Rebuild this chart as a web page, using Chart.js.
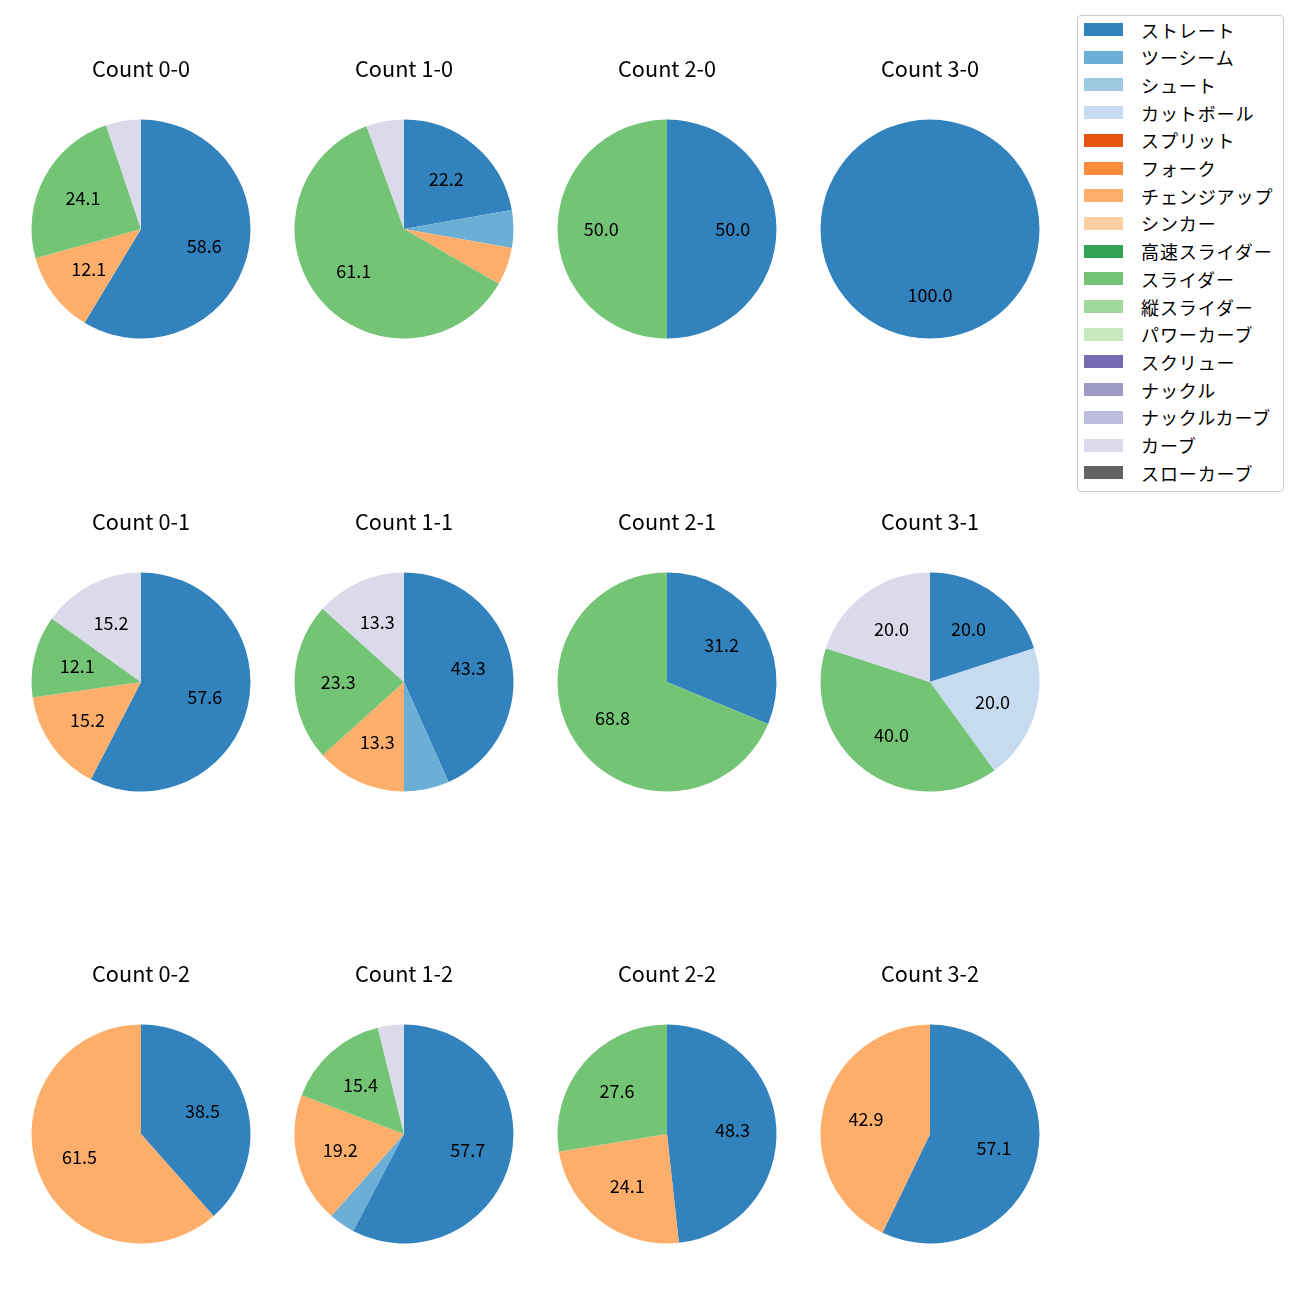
<!DOCTYPE html>
<html>
<head>
<meta charset="utf-8">
<script src="https://cdn.jsdelivr.net/npm/chart.js@4.4.1/dist/chart.umd.min.js"></script>
<style>
  body { margin: 0; background: #fff; width: 1300px; height: 1300px; position: relative; overflow: hidden; }
  canvas.pie { position: absolute; }
  .legend { position: absolute; left: 1077px; top: 15px; width: 205px; height: 475px;
            border: 1px solid #cccccc; border-radius: 4px; background: #fff; }
  .legend .sw { position: absolute; width: 39px; height: 13px; }
  .legend .lb { position: absolute; font: 18px "Noto Sans CJK JP", sans-serif; color: #000;
                line-height: 20px; white-space: nowrap; letter-spacing: 0.9px; }
</style>
</head>
<body>

<div class="legend" id="legend"></div>

<script>
// pitch types, legend order
const pitchTypes = ["ストレート", "ツーシーム", "シュート", "カットボール", "スプリット", "フォーク",
    "チェンジアップ", "シンカー", "高速スライダー", "スライダー", "縦スライダー", "パワーカーブ",
    "スクリュー", "ナックル", "ナックルカーブ", "カーブ", "スローカーブ"];
const pitchColors = ["#3182bd", "#6baed6", "#9ecae1", "#c6dbef", "#e6550d", "#fd8d3c",
    "#fdae6b", "#fdd0a2", "#31a354", "#74c476", "#a1d99b", "#c7e9c0",
    "#756bb1", "#9e9ac8", "#bcbddc", "#dadaeb", "#636363"];

// ball-strike counts, subplot order
const countLabels = ["Count 0-0", "Count 1-0", "Count 2-0", "Count 3-0",
    "Count 0-1", "Count 1-1", "Count 2-1", "Count 3-1",
    "Count 0-2", "Count 1-2", "Count 2-2", "Count 3-2"];

// pitches thrown per count (only types that appear)
const straight   = [34, 4, 2, 2, 19, 13, 5, 1, 5, 15, 14, 4];
const twoSeam    = [0, 1, 0, 0, 0, 2, 0, 0, 0, 1, 0, 0];
const cutter     = [0, 0, 0, 0, 0, 0, 0, 1, 0, 0, 0, 0];
const changeup   = [7, 1, 0, 0, 5, 4, 0, 0, 8, 5, 7, 3];
const slider     = [14, 11, 2, 0, 4, 7, 11, 2, 0, 4, 8, 0];
const curve      = [3, 1, 0, 0, 5, 4, 0, 1, 0, 1, 0, 0];
const zeros      = [0, 0, 0, 0, 0, 0, 0, 0, 0, 0, 0, 0];

const byType = {
    "ストレート": straight, "ツーシーム": twoSeam, "カットボール": cutter,
    "チェンジアップ": changeup, "スライダー": slider, "カーブ": curve
};

const colX = [141, 404, 667, 930];
const rowY = [229, 682, 1134];
const FONT = '"Noto Sans CJK JP", sans-serif';

// one decimal, ties to even (same as python's %1.1f)
function fmt1(v) {
    const x = v * 10;
    let n = Math.round(x);
    if (Math.abs(x - Math.trunc(x)) === 0.5 && n % 2 !== 0) n -= 1;
    return (n / 10).toFixed(1);
}

// percentage labels inside the wedges, like autopct
const pctLabels = {
    id: "pctLabels",
    afterDatasetsDraw(chart) {
        const ctx = chart.ctx;
        const ds = chart.data.datasets[0].data;
        const total = ds.reduce((a, b) => a + b, 0);
        chart.getDatasetMeta(0).data.forEach((arc, i) => {
            const pct = ds[i] / total * 100;
            if (pct < 10) return;
            const mid = (arc.startAngle + arc.endAngle) / 2;
            const r = arc.outerRadius * 0.6;
            ctx.save();
            ctx.fillStyle = "#000";
            ctx.font = "18px " + FONT;
            ctx.textAlign = "center";
            ctx.textBaseline = "middle";
            ctx.fillText(fmt1(pct), arc.x + Math.cos(mid) * r, arc.y + Math.sin(mid) * r);
            ctx.restore();
        });
    }
};

countLabels.forEach((title, k) => {
    const cx = colX[k % 4], cy = rowY[Math.floor(k / 4)];
    const cv = document.createElement("canvas");
    cv.className = "pie";
    cv.width = 260;
    cv.height = 300;
    cv.style.left = (cx - 130) + "px";
    cv.style.top = (cy - 180) + "px";
    document.body.appendChild(cv);

    const values = pitchTypes.map(p => (byType[p] || zeros)[k]);

    new Chart(cv, {
        type: "pie",
        data: {
            labels: pitchTypes,
            datasets: [{ data: values, backgroundColor: pitchColors, borderWidth: 0 }]
        },
        options: {
            responsive: false,
            animation: false,
            events: [],
            layout: { padding: { top: 0, bottom: 10.5, left: 20.5, right: 20.5 } },
            plugins: {
                legend: { display: false },
                tooltip: { enabled: false },
                title: {
                    display: true,
                    text: title,
                    color: "#000",
                    font: { family: FONT, size: 21.7, weight: "normal", lineHeight: 1.2 },
                    padding: { top: 7, bottom: 37.5 }
                }
            }
        },
        plugins: [pctLabels]
    });
});

// legend box
const legend = document.getElementById("legend");
pitchTypes.forEach((name, i) => {
    const y = 7 + i * 27.7;
    const sw = document.createElement("div");
    sw.className = "sw";
    sw.style.left = "6px";
    sw.style.top = y + "px";
    sw.style.background = pitchColors[i];
    legend.appendChild(sw);
    const lb = document.createElement("div");
    lb.className = "lb";
    lb.style.left = "63px";
    lb.style.top = (y - 3.5) + "px";
    lb.textContent = name;
    legend.appendChild(lb);
});
</script>
</body>
</html>
